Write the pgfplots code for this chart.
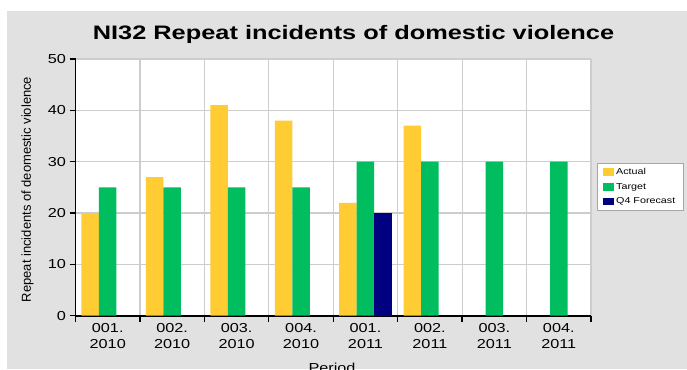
\documentclass[border=0pt]{standalone}
\usepackage{fontspec}
\setmainfont{Liberation Sans}
\newfontfamily\wide[FakeStretch=1.25]{Liberation Sans}
\newfontfamily\titlefont[FakeStretch=1.3]{Liberation Sans}
\usepackage{pgfplots}
\pgfplotsset{compat=1.18}
\definecolor{bg}{RGB}{225,225,225}
\definecolor{actual}{RGB}{255,204,51}
\definecolor{target}{RGB}{0,190,96}
\definecolor{fcst}{RGB}{0,0,128}
\definecolor{gridc}{RGB}{205,205,205}
\begin{document}
\begin{tikzpicture}
\useasboundingbox (0,0) rectangle (687pt,369pt);
\fill[bg] (7pt,0) rectangle (687pt,358pt);
\node[anchor=base, font=\titlefont\bfseries\fontsize{19.5}{23}\selectfont] at (353.5pt,329pt) {NI32 Repeat incidents of domestic violence};
\node[rotate=90, font=\fontsize{13}{15}\selectfont] at (27.5pt,179.5pt) {Repeat incidents of deomestic violence};
\node[anchor=base, font=\wide\fontsize{13}{15}\selectfont] at (332pt,-3.3pt) {Period};
\begin{axis}[
  at={(75.5pt,53.3pt)}, anchor=south west,
  scale only axis, width=515.5pt, height=256.7pt,
  xmin=0.5, xmax=8.5, ymin=0, ymax=50,
  axis background/.style={fill=white},
  axis x line*=bottom, axis y line*=left,
  axis line style={black, line width=1.6pt},
  ytick={0,10,...,50},
  xtick={0.5,1.5,...,8.5}, xticklabels={},
  extra x ticks={1,2,3,4,5,6,7,8},
  extra x tick labels={{001.\\2010},{002.\\2010},{003.\\2010},{004.\\2010},{001.\\2011},{002.\\2011},{003.\\2011},{004.\\2011}},
  extra x tick style={major tick length=0pt, grid=none,
    xticklabel style={align=center, font=\wide\fontsize{13}{16.5}\selectfont, yshift=-4pt}},
  xmajorgrids, ymajorgrids,
  grid style={gridc, line width=1.2pt},
  tick align=outside, major tick length=6pt,
  tick style={black, line width=1.3pt},
  yticklabel style={font=\wide\fontsize{13}{15}\selectfont},
  /pgf/number format/assume math mode=true,
  legend style={at={(1.0116,0.595)}, anchor=north west, draw=gray!70, fill=white,
    font=\wide\fontsize{8.6}{10}\selectfont, row sep=3.3pt, inner xsep=6pt, inner ysep=3pt},
  legend cell align=left,
  legend image code/.code={\fill[#1] (0pt,-3.8pt) rectangle (11pt,3.8pt);},
]
\addplot[ybar, bar width=17.5pt, bar shift=-17.5pt, fill=actual, draw=none]
  coordinates {(1,20) (2,27) (3,41) (4,38) (5,22) (6,37)};
\addplot[ybar, bar width=17.5pt, bar shift=0pt, fill=target, draw=none]
  coordinates {(1,25) (2,25) (3,25) (4,25) (5,30) (6,30) (7,30) (8,30)};
\addplot[ybar, bar width=17.5pt, bar shift=17.5pt, fill=fcst, draw=none]
  coordinates {(5,20)};
\legend{Actual, Target, Q4 Forecast}
\end{axis}
\end{tikzpicture}
\end{document}
